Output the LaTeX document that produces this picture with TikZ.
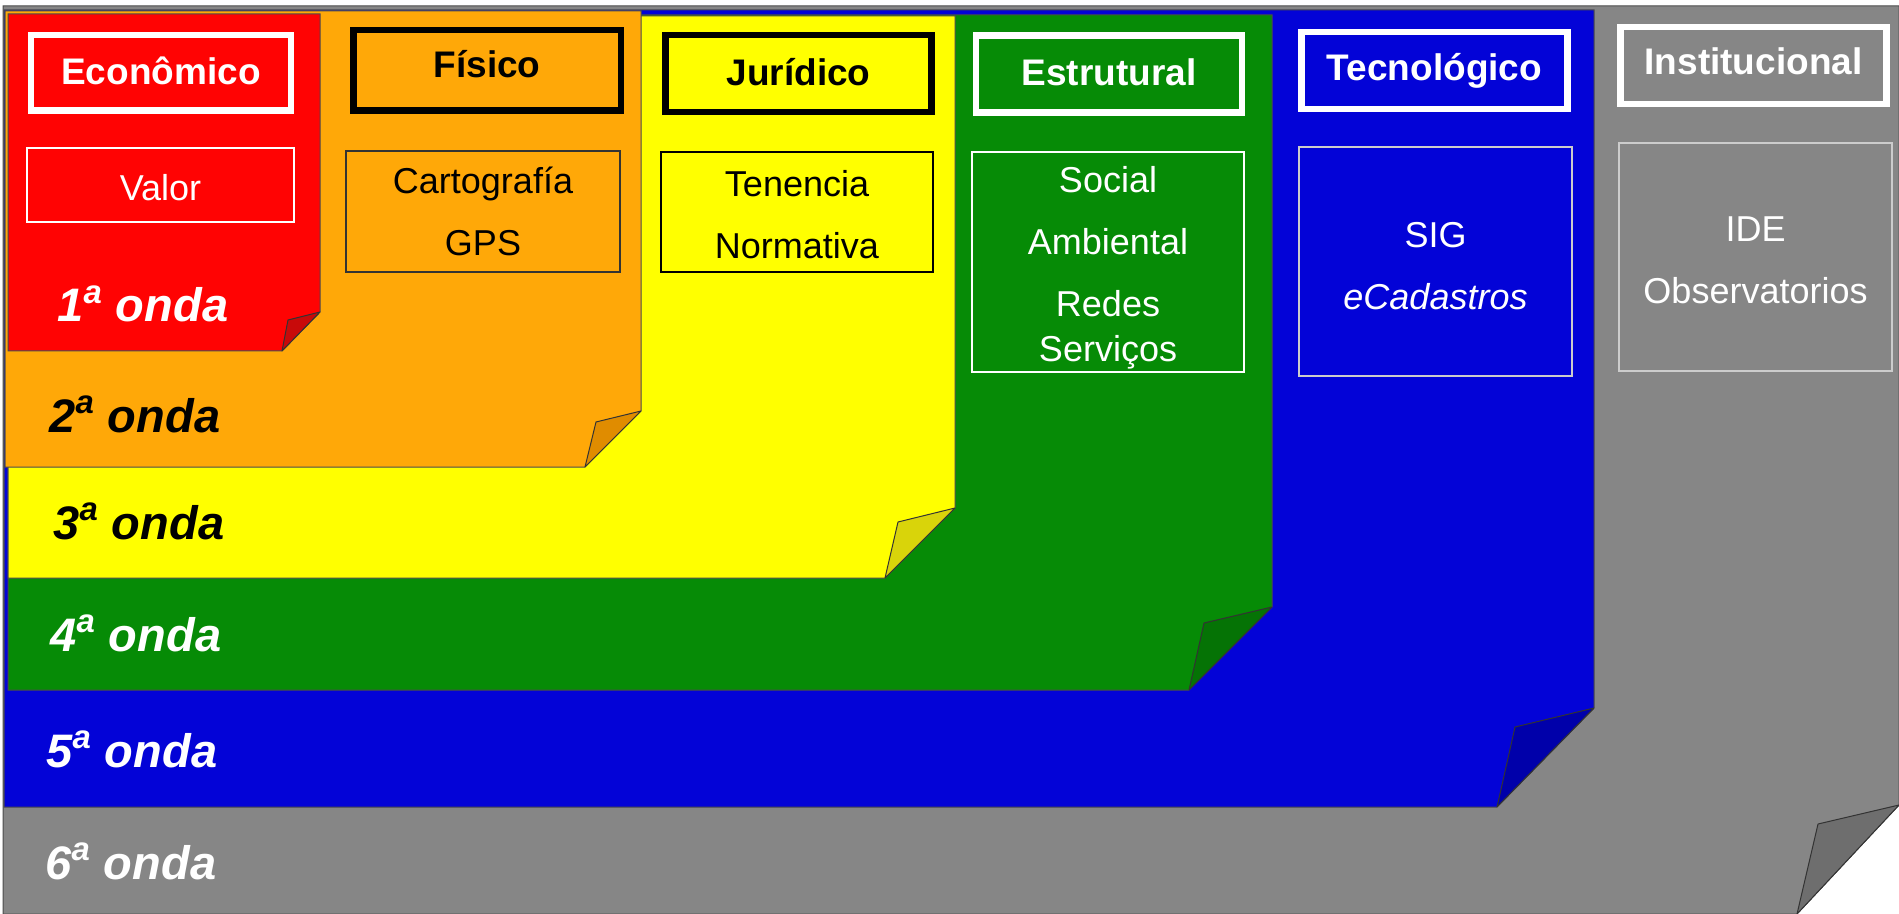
\documentclass[tikz,border=0pt]{standalone}
\usepackage{fontspec}
\setmainfont{Liberation Sans}
\begin{document}
\begin{tikzpicture}[x=0.5pt, y=-0.5pt,
  sheet/.style={fill=col, draw=black!70, line width=0.5pt},
  curl/.style={fill=fold, draw=black!80, line width=0.5pt, line join=round},
  title/.style={draw, line width=3.25pt, minimum width=133pt, minimum height=38.5pt, inner sep=0pt, text height=13.25pt, text depth=1.5pt, font=\fontsize{18.5}{22}\selectfont\bfseries},
  items/.style={draw, line width=0.6pt, inner sep=0pt, align=center, font=\fontsize{18}{31}\selectfont},
  wave/.style={anchor=base west, inner sep=0pt, font=\fontsize{23.5}{28}\selectfont\bfseries\itshape}]
\useasboundingbox (0,0) rectangle (1899,914);
\definecolor{col}{HTML}{868686}\definecolor{fold}{HTML}{6E6E6E}
\filldraw[sheet] (3,6) -- (1899,6) -- (1899,805) -- (1797,914) -- (3,914) -- cycle;
\filldraw[curl] (1899,805) -- (1818,824) -- (1797,914) -- cycle;
\definecolor{col}{HTML}{0303D7}\definecolor{fold}{HTML}{0000AA}
\filldraw[sheet] (4,10) -- (1594,10) -- (1594,708) -- (1497,807) -- (4,807) -- cycle;
\filldraw[curl] (1594,708) -- (1515,727) -- (1497,807) -- cycle;
\definecolor{col}{HTML}{068B06}\definecolor{fold}{HTML}{057305}
\filldraw[sheet] (8,15) -- (1272,15) -- (1272,607) -- (1189,690) -- (8,690) -- cycle;
\filldraw[curl] (1272,607) -- (1204,623) -- (1189,690) -- cycle;
\definecolor{col}{HTML}{FFFF00}\definecolor{fold}{HTML}{D9D40A}
\filldraw[sheet] (8,16) -- (955,16) -- (955,508) -- (885,578) -- (8,578) -- cycle;
\filldraw[curl] (955,508) -- (898,522) -- (885,578) -- cycle;
\definecolor{col}{HTML}{FFA808}\definecolor{fold}{HTML}{E08C00}
\filldraw[sheet] (5,11) -- (641,11) -- (641,411) -- (585,467) -- (5,467) -- cycle;
\filldraw[curl] (641,411) -- (596,422) -- (585,467) -- cycle;
\definecolor{col}{HTML}{FF0303}\definecolor{fold}{HTML}{C80A0A}
\filldraw[sheet] (8,14) -- (320,14) -- (320,312) -- (282,351) -- (8,351) -- cycle;
\filldraw[curl] (320,312) -- (288,320) -- (282,351) -- cycle;
\node[title, draw=white, text=white, minimum width=130pt, minimum height=37.75pt] (economico) at (161,73) {Econômico};
\node[title, draw=black, minimum width=133.75pt, minimum height=40.25pt, text depth=6.5pt] (fisico) at (487,70.5) {Físico};
\node[title, draw=black] (juridico) at (798.5,73.5) {Jurídico};
\node[title, draw=white, text=white] (estrutural) at (1109,74) {Estrutural};
\node[title, draw=white, text=white, text depth=3.5pt] (tecnologico) at (1434.5,70.5) {Tecnológico};
\node[title, draw=white, text=white, text depth=4.5pt] (institucional) at (1753.5,65.5) {Institucional};
\node[items, draw=white, text=white, minimum width=133.5pt, minimum height=37pt] (valor) at (160.5,185) {\rule{0pt}{16pt}Valor};
\node[items, draw=black!80, minimum width=137pt, minimum height=60.5pt] (cartografia) at (483,211.5) {Cartografía\\GPS};
\node[items, draw=black, minimum width=136pt, minimum height=60pt] (tenencia) at (797,212) {\rule{0pt}{16pt}Tenencia\\Normativa};
\node[items, draw=white, text=white, minimum width=136pt, minimum height=110pt] (social) at (1108,262) {\rule{0pt}{19pt}Social\\Ambiental\\Redes\\[-8.5pt]Serviços};
\node[items, draw=black!20, text=white, minimum width=136.5pt, minimum height=114.5pt] (sig) at (1435.5,261.5) {\rule{0pt}{17pt}SIG\\\textit{eCadastros}};
\node[items, draw=black!20, text=white, minimum width=136.5pt, minimum height=114pt] (ide) at (1755.5,257) {\rule{0pt}{16pt}IDE\\Observatorios};
\node[wave, text=white] (onda1) at (57,322) {1\textsuperscript{a} onda};
\node[wave] (onda2) at (49,432) {2\textsuperscript{a} onda};
\node[wave] (onda3) at (53,539) {3\textsuperscript{a} onda};
\node[wave, text=white] (onda4) at (50,651) {4\textsuperscript{a} onda};
\node[wave, text=white] (onda5) at (46,767) {5\textsuperscript{a} onda};
\node[wave, text=white] (onda6) at (45,879) {6\textsuperscript{a} onda};
\end{tikzpicture}
\end{document}
